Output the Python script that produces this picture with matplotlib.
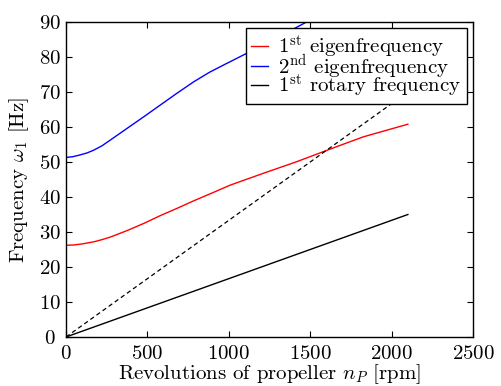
import matplotlib
matplotlib.use("Agg")
import matplotlib.pyplot as plt

plt.rcParams['font.family'] = ['cmr10', 'DejaVu Serif']
plt.rcParams['mathtext.fontset'] = 'cm'
plt.rcParams['axes.formatter.use_mathtext'] = True

# Data
red_rpm = [0, 50, 100, 171, 220, 275, 325, 375, 480, 580, 684, 784, 900, 1009, 1214, 1418, 1623, 1827, 2100]
red_hz = [26.2, 26.3, 26.6, 27.2, 27.8, 28.6, 29.5, 30.4, 32.5, 34.7, 36.8, 38.9, 41.2, 43.4, 46.8, 50.1, 53.7, 57.2, 60.8]

blue_rpm = [0, 40, 85, 130, 171, 220, 270, 375, 480, 580, 680, 784, 880, 980, 1091, 1300, 1490, 1600]
blue_hz = [51.3, 51.5, 52.0, 52.6, 53.4, 54.6, 56.2, 59.6, 63.0, 66.3, 69.6, 72.9, 75.6, 78.0, 80.6, 85.6, 90.3, 92.6]

rot_rpm = [0, 2100]
rot_hz = [0, 35]
rot2_hz = [0, 70]

labels = [r'1$^{\mathrm{st}}$ eigenfrequency',
          r'2$^{\mathrm{nd}}$ eigenfrequency',
          r'1$^{\mathrm{st}}$ rotary frequency']

fig = plt.figure(figsize=(5.02, 3.86), dpi=100)
ax = fig.add_axes([66/502, 1-337/386, (473-66)/502, (337-22)/386])

ax.plot(red_rpm, red_hz, color='red', lw=1.0, label=labels[0])
ax.plot(blue_rpm, blue_hz, color='blue', lw=1.0, label=labels[1])
ax.plot(rot_rpm, rot_hz, color='black', lw=1.0, label=labels[2])
ax.plot(rot_rpm, rot2_hz, color='black', lw=0.9, dashes=(3.5, 2.5))

ax.set_xlim(0, 2500)
ax.set_ylim(0, 90)
ax.set_xticks(range(0, 2501, 500))
ax.set_yticks(range(0, 91, 10))
ax.tick_params(direction='in', top=True, right=True, labelsize=15, length=4, width=0.8)
ax.tick_params(axis='x', pad=5.5)
ax.tick_params(axis='y', pad=11.5)
for t in ax.get_yticklabels():
    t.set_horizontalalignment('center')
for s in ax.spines.values():
    s.set_linewidth(1.0)

ax.set_xlabel(r'Revolutions of propeller $n_P$ [rpm]', fontsize=15, labelpad=0)
ax.set_ylabel(r'Frequency $\omega_1$ [Hz]', fontsize=15, labelpad=6)

leg = ax.legend(loc='upper right', fontsize=15, frameon=True, fancybox=False,
                edgecolor='black', framealpha=1, borderaxespad=0.3,
                handlelength=0.8, handletextpad=0.5, labelspacing=-0.4,
                borderpad=0.25)
leg.get_frame().set_linewidth(1.0)

fig.savefig('out.png', dpi=100)
